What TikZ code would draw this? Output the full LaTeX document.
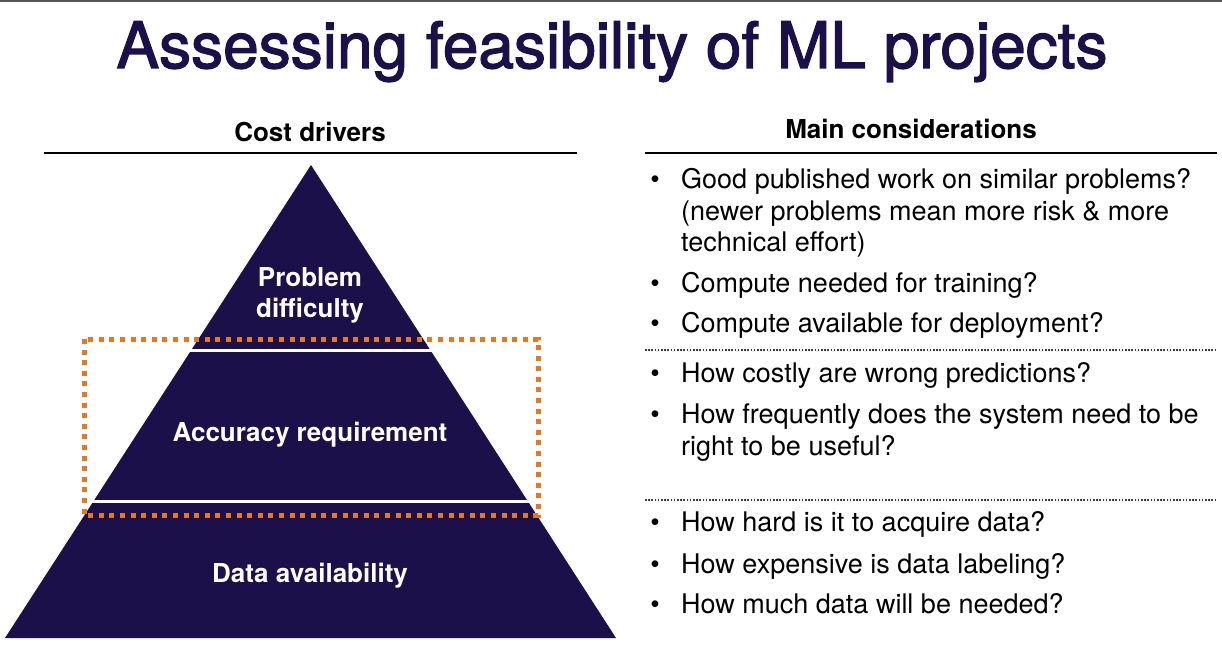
\documentclass[tikz,border=0pt]{standalone}
\usepackage{fontspec}
\setmainfont{TeX Gyre Heros}
\definecolor{navy}{HTML}{1B1049}
\definecolor{orangedot}{HTML}{E87722}
\definecolor{topgray}{HTML}{555555}
\newcommand{\heavytext}[1]{\special{pdf:literal direct 2 Tr 1.3 w 0.106 0.063 0.286 RG}#1\special{pdf:literal direct 0 Tr}}
\begin{document}
\begin{tikzpicture}[x=1pt,y=-1pt,
  titletext/.style={anchor=base,inner sep=0pt,text=navy,font=\fontsize{64}{70}\selectfont},
  headtext/.style={anchor=base,inner sep=0pt,text=black,font=\fontsize{26}{30}\selectfont\bfseries},
  pyrtext/.style={anchor=base,inner sep=0pt,text=white,font=\fontsize{26}{30}\selectfont\bfseries},
  itemtext/.style={anchor=base west,inner sep=0pt,text=black,font=\fontsize{27}{31}\selectfont},
  bul/.style={anchor=base,inner sep=0pt,text=black,font=\fontsize{27}{31}\selectfont},
  rule/.style={line width=2pt,black},
  sep/.style={line width=1.6pt,black!75,dash pattern=on 1.6pt off 1.6pt},
  gap/.style={line width=3pt,white},
  highlight/.style={line width=5pt,orangedot,dash pattern=on 5pt off 5.6pt}]
\useasboundingbox (0,0) rectangle (1222,655);
\fill[white] (0,0) rectangle (1222,655);
\draw[line width=2.5pt,topgray] (0,1) -- (1222,1);

% title
\node[titletext] (title) at (612,68) {\heavytext{Assessing feasibility of ML projects}};

% headers
\node[headtext] (cost) at (310,142) {Cost drivers};
\coordinate (cl) at (44,153);
\coordinate (cr) at (577,153);
\draw[rule] (cl) -- (cr);
\node[headtext] (main) at (911,139) {Main considerations};
\coordinate (ml) at (645,153);
\coordinate (mr) at (1217,153);
\draw[rule] (ml) -- (mr);

% pyramid
\coordinate (apex) at (311,165);
\coordinate (bl) at (5,638);
\coordinate (br) at (616,638);
\fill[navy] (apex) -- (br) -- (bl) -- cycle;
\coordinate (g1l) at (150,350);
\coordinate (g1r) at (470,350);
\coordinate (g2l) at (60,501);
\coordinate (g2r) at (560,501);
\draw[gap] (g1l) -- (g1r);
\draw[gap] (g2l) -- (g2r);

\node[pyrtext] (p1) at (310,286) {Problem};
\node[pyrtext] (p2) at (310,317) {difficulty};
\node[pyrtext] (acc) at (310,441) {Accuracy requirement};
\node[pyrtext] (data) at (310,582) {Data availability};

% highlight box
\coordinate (h1) at (84,339);
\coordinate (h2) at (538,515);
\draw[highlight] (h1) rectangle (h2);

% right column items
\node[bul] (b1) at (655,189) {\textbullet};
\node[itemtext] (t1a) at (681,189) {Good published work on similar problems?};
\node[itemtext] (t1b) at (681,220) {(newer problems mean more risk \& more};
\node[itemtext] (t1c) at (681,251) {technical effort)};
\node[bul] (b2) at (655,292) {\textbullet};
\node[itemtext] (t2) at (681,292) {Compute needed for training?};
\node[bul] (b3) at (655,332) {\textbullet};
\node[itemtext] (t3) at (681,332) {Compute available for deployment?};

\coordinate (s1l) at (645,350);
\coordinate (s1r) at (1217,350);
\draw[sep] (s1l) -- (s1r);

\node[bul] (b4) at (655,382) {\textbullet};
\node[itemtext] (t4) at (681,382) {How costly are wrong predictions?};
\node[bul] (b5) at (655,423) {\textbullet};
\node[itemtext] (t5a) at (681,423) {How frequently does the system need to be};
\node[itemtext] (t5b) at (681,455) {right to be useful?};

\coordinate (s2l) at (645,500);
\coordinate (s2r) at (1217,500);
\draw[sep] (s2l) -- (s2r);

\node[bul] (b6) at (655,531) {\textbullet};
\node[itemtext] (t6) at (681,531) {How hard is it to acquire data?};
\node[bul] (b7) at (655,573) {\textbullet};
\node[itemtext] (t7) at (681,573) {How expensive is data labeling?};
\node[bul] (b8) at (655,613) {\textbullet};
\node[itemtext] (t8) at (681,613) {How much data will be needed?};
\end{tikzpicture}
\end{document}
